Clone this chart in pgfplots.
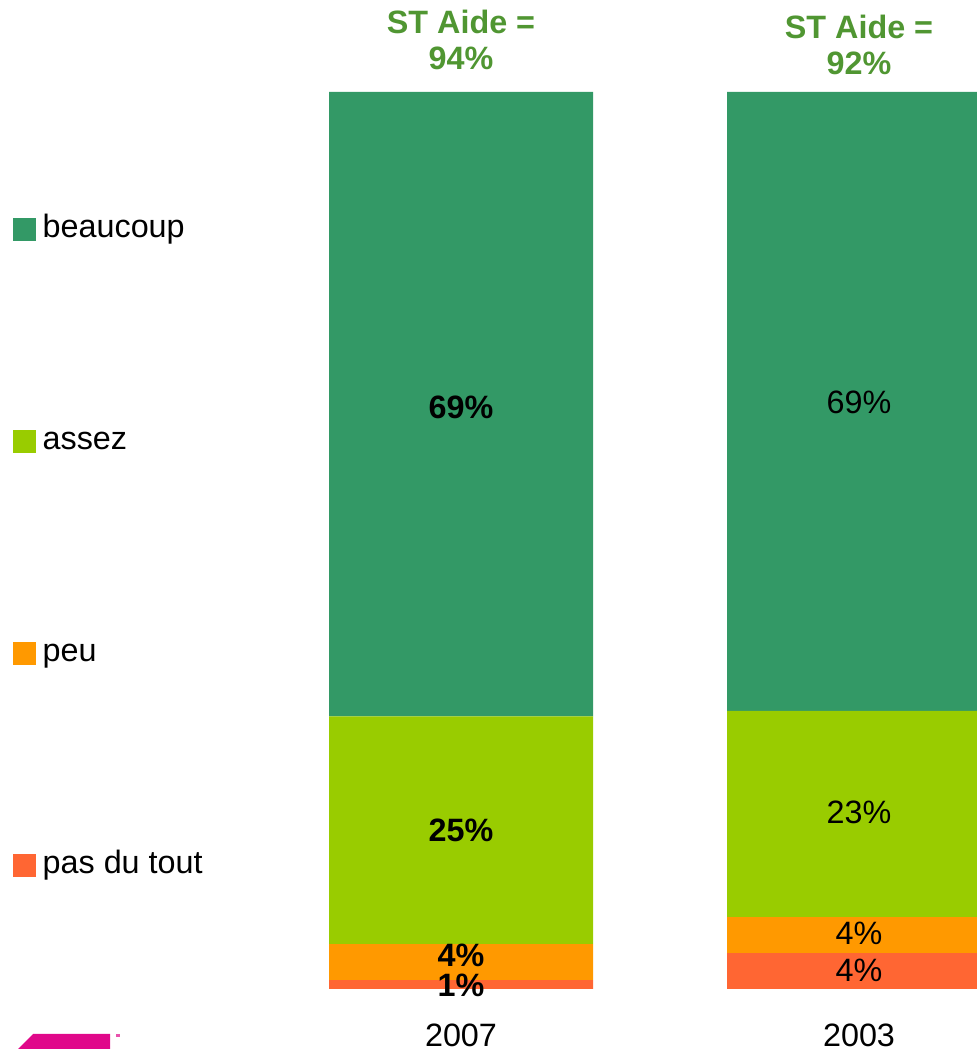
\documentclass[border=0pt]{standalone}
\usepackage{fontspec}
\setmainfont{Liberation Sans}
\usepackage{pgfplots}
\pgfplotsset{compat=1.18}
\definecolor{cBeau}{RGB}{51,153,102}
\definecolor{cAssez}{RGB}{153,204,0}
\definecolor{cPeu}{RGB}{255,153,0}
\definecolor{cPas}{RGB}{255,102,51}
\definecolor{cTitle}{RGB}{80,150,50}
\definecolor{cPink}{RGB}{224,8,138}
\newcommand\fs{\fontsize{9.7}{10.8}\selectfont}
\begin{document}
\begin{tikzpicture}[font=\fs]
\path[use as bounding box] (0,0) rectangle (293.1pt,314.7pt);
\clip (0,0) rectangle (293.1pt,314.7pt);
\begin{axis}[
  at={(0pt,18pt)}, anchor=south west,
  scale only axis, width=293.1pt, height=269.1pt,
  xmin=-1.1583, xmax=1.2965, ymin=0, ymax=100,
  clip=false,
  ybar stacked, bar width=0.6633,
  axis line style={draw=none}, major tick length=0pt,
  ytick=\empty, xtick={0,1}, xticklabels={2007,2003},
  /pgf/number format/assume math mode=true,
  xticklabel style={anchor=center, yshift=-13.8pt, font=\fs},
  reverse legend,
  legend image code/.code={\fill[#1] (0pt,-3.45pt) rectangle (6.9pt,3.45pt);},
  legend style={at={(rel axis cs:0.0123,0.8657)}, anchor=north west, draw=none, inner sep=0pt,
    row sep=54pt, column sep=2.1pt,
    nodes={inner sep=0pt, text height=7.2pt, text depth=2.4pt},
    font=\fs},
  legend cell align=left,
]
\addplot[fill=cPas, draw=none] coordinates {(0,1.0) (1,4)};
\addlegendentry{pas du tout}
\addplot[fill=cPeu, draw=none] coordinates {(0,4.0) (1,4)};
\addlegendentry{peu}
\addplot[fill=cAssez, draw=none] coordinates {(0,25.4) (1,23)};
\addlegendentry{assez}
\addplot[fill=cBeau, draw=none] coordinates {(0,69.6) (1,69)};
\addlegendentry{beaucoup}
\coordinate (a1) at (axis cs:0,64.8);
\coordinate (a2) at (axis cs:0,17.7);
\coordinate (a3) at (axis cs:0,3.8);
\coordinate (a4) at (axis cs:0,0.45);
\coordinate (b1) at (axis cs:1,65.4);
\coordinate (b2) at (axis cs:1,19.7);
\coordinate (b3) at (axis cs:1,6.2);
\coordinate (b4) at (axis cs:1,2.1);
\node[align=center, text=cTitle, font=\bfseries\fs, yshift=15.6pt] at (axis cs:0,100) {ST Aide =\\94\%};
\node[align=center, text=cTitle, font=\bfseries\fs, yshift=14.1pt] at (axis cs:1,100) {ST Aide =\\92\%};
\end{axis}
\node[font=\bfseries\fs] at (a1) {69\%};
\node[font=\bfseries\fs] at (a2) {25\%};
\node[font=\bfseries\fs] at (a3) {4\%};
\node[font=\bfseries\fs] at (a4) {1\%};
\node at (b1) {69\%};
\node at (b2) {23\%};
\node at (b3) {4\%};
\node at (b4) {4\%};
\fill[cPink] (5.4pt,0pt) -- (9.9pt,4.5pt) -- (33pt,4.5pt) -- (33pt,0pt) -- cycle;
\fill[cPink!70] (34.8pt,3.6pt) rectangle (36pt,4.5pt);
\end{tikzpicture}
\end{document}
